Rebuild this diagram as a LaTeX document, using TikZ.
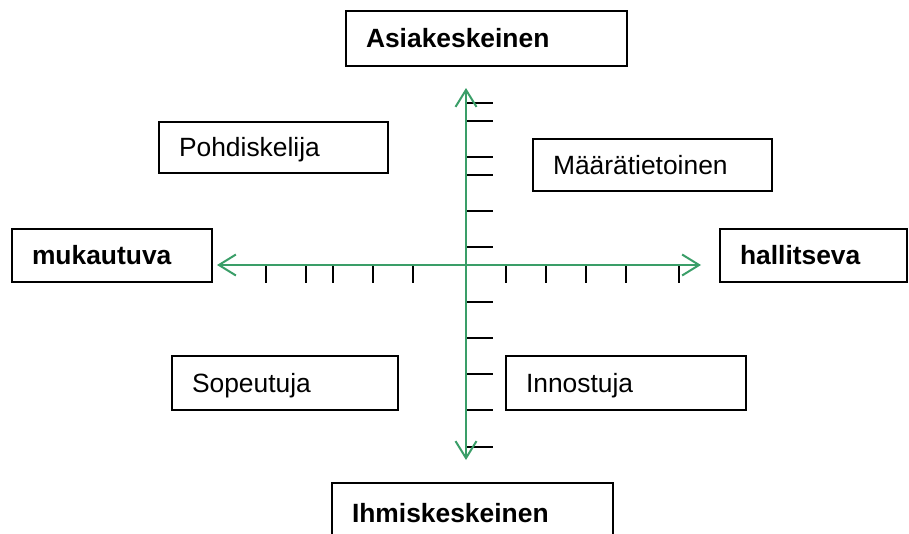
\documentclass[tikz,border=0pt]{standalone}
\usepackage{fontspec}
\setmainfont{Liberation Sans}
\usetikzlibrary{arrows.meta}
\definecolor{axisgreen}{RGB}{58,158,104}
\tikzset{
  box/.style={draw=black, line width=1.8pt, rectangle, anchor=north west,
    inner xsep=20pt, inner ysep=0pt, outer sep=0pt, align=left,
    text height=19pt, text depth=1pt, font=\fontsize{26.4}{30}\selectfont},
  headbox/.style={box, font=\fontsize{26.4}{30}\selectfont\bfseries},
  axisline/.style={draw=axisgreen, line width=2pt,
    arrows={Straight Barb[length=17pt, width=21pt, line width=2pt]-Straight Barb[length=17pt, width=21pt, line width=2pt]}},
  tick/.style={draw=black, line width=1.5pt}
}
% box at (x,y) with width w and height h, in pixel-like units
\newcommand{\quadbox}[7]{%
  \node[#1, minimum width=#4pt, minimum height=#5pt, text width=#4pt-40pt] (#6) at (#2,#3) {#7};}
\begin{document}
\begin{tikzpicture}[x=1pt, y=-1pt]
  \useasboundingbox (0,0) rectangle (909,533);
  \clip (0,0) rectangle (909,533);

  % axis labels
  \quadbox{headbox}{346}{11}{281}{55}{asia}{Asiakeskeinen}
  \quadbox{headbox}{332}{483}{281}{60}{ihmi}{Ihmiskeskeinen}
  \quadbox{headbox}{12}{229}{200}{53}{muka}{mukautuva}
  \quadbox{headbox}{720}{229}{187}{53}{hall}{hallitseva}

  % quadrant types
  \quadbox{box}{159}{122}{229}{51}{pohd}{Pohdiskelija}
  \quadbox{box}{533}{139}{239}{52}{maar}{Määrätietoinen}
  \quadbox{box}{172}{356}{226}{54}{sope}{Sopeutuja}
  \quadbox{box}{506}{356}{240}{54}{inno}{Innostuja}

  % axis end points
  \coordinate (left)   at (217,265);
  \coordinate (right)  at (701,265);
  \coordinate (top)    at (466,88);
  \coordinate (bottom) at (466,460);

  % scale ticks
  \foreach \x in {266,306,333,373,413,506,546,586,626,679}
    \draw[tick] (\x,265) -- (\x,283);
  \foreach \y in {103,121,157,175,211,247,302,338,374,410,447}
    \draw[tick] (466,\y) -- (493,\y);

  % axes
  \draw[axisline] (left) -- (right);
  \draw[axisline] (top) -- (bottom);
\end{tikzpicture}
\end{document}
